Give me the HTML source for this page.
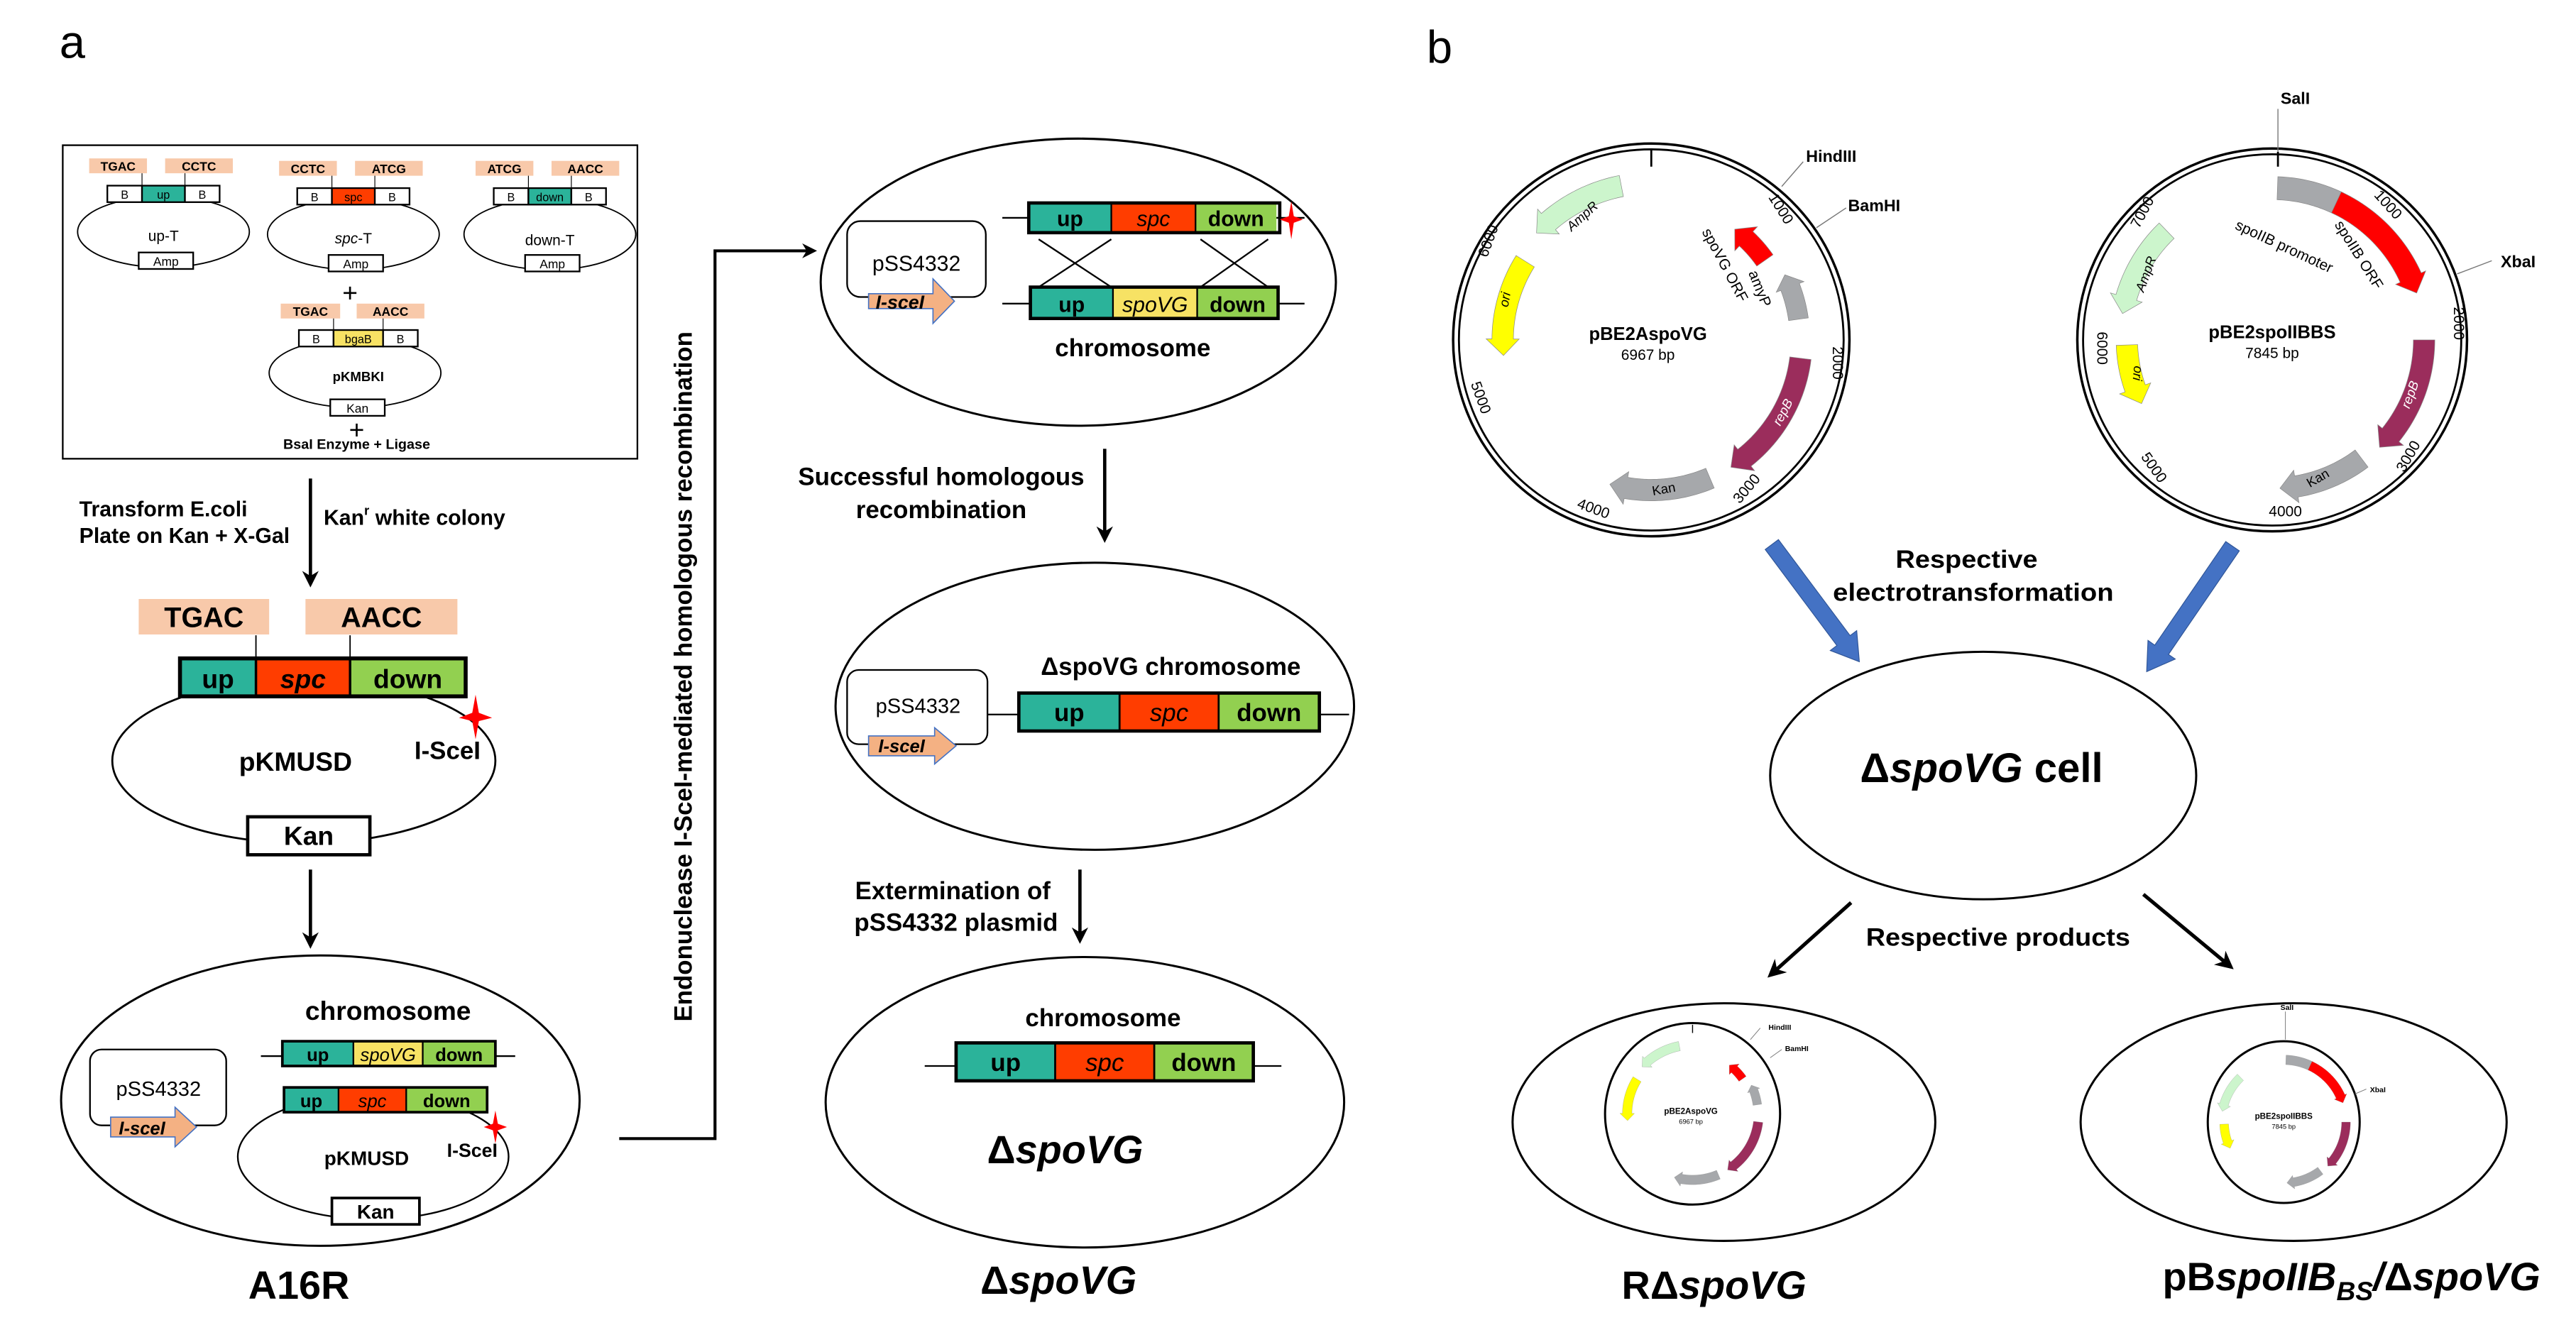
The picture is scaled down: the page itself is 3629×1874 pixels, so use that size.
<!DOCTYPE html>
<html><head><meta charset="utf-8">
<style>
html,body{margin:0;padding:0;background:#fff;}
svg{display:block;}
text{font-family:"Liberation Sans",Arial,sans-serif;}
.b{font-weight:bold;}
</style></head>
<body>
<svg id="s" xmlns="http://www.w3.org/2000/svg" width="3629" height="1874" viewBox="0 0 1560 806" preserveAspectRatio="none">
<defs>
<marker id="ah" viewBox="0 0 10 10" refX="8" refY="5" markerWidth="5" markerHeight="5" orient="auto"><path d="M0,0 L10,5 L0,10 L3,5 z" fill="#000"/></marker>
</defs>
<rect width="1560" height="806" fill="#fff"/>
<g id="shapes"></g>

<!-- panel labels -->
<text x="36" y="35" font-size="28">a</text>
<text x="864" y="38" font-size="28">b</text>

<!-- ===== top box ===== -->
<rect x="38" y="88" width="348" height="190" fill="none" stroke="#000" stroke-width="1"/>
<g id="upT">
 <ellipse cx="99" cy="140.5" rx="52" ry="21.5" fill="none" stroke="#000" stroke-width="0.8"/>
 <rect x="54" y="96" width="35" height="9" fill="#f8c9aa"/>
 <rect x="100" y="96" width="41" height="9" fill="#f8c9aa"/>
 <text x="71.5" y="103.5" font-size="7.5" text-anchor="middle" class="b">TGAC</text>
 <text x="120.5" y="103.5" font-size="7.5" text-anchor="middle" class="b">CCTC</text>
 <line x1="86" y1="105" x2="86" y2="112" stroke="#000" stroke-width="0.5"/>
 <line x1="112" y1="105" x2="112" y2="112" stroke="#000" stroke-width="0.5"/>
 <rect x="65" y="112.5" width="21" height="10" fill="#fff" stroke="#000" stroke-width="1"/>
 <rect x="86" y="112.5" width="26" height="10" fill="#2bb39a" stroke="#000" stroke-width="1"/>
 <rect x="112" y="112.5" width="21" height="10" fill="#fff" stroke="#000" stroke-width="1"/>
 <text x="75.5" y="120.5" font-size="7" text-anchor="middle">B</text>
 <text x="99" y="120.5" font-size="7" text-anchor="middle">up</text>
 <text x="122.5" y="120.5" font-size="7" text-anchor="middle">B</text>
 <text x="99" y="146" font-size="9" text-anchor="middle">up-T</text>
 <rect x="84" y="153" width="33" height="10" fill="#fff" stroke="#000" stroke-width="1"/>
 <text x="100.5" y="161" font-size="7.5" text-anchor="middle">Amp</text>
</g>
<g transform="translate(115,1.5)">
 <ellipse cx="99" cy="140.5" rx="52" ry="21.5" fill="none" stroke="#000" stroke-width="0.8"/>
 <rect x="54" y="96" width="35" height="9" fill="#f8c9aa"/>
 <rect x="100" y="96" width="41" height="9" fill="#f8c9aa"/>
 <text x="71.5" y="103.5" font-size="7.5" text-anchor="middle" class="b">CCTC</text>
 <text x="120.5" y="103.5" font-size="7.5" text-anchor="middle" class="b">ATCG</text>
 <line x1="86" y1="105" x2="86" y2="112" stroke="#000" stroke-width="0.5"/>
 <line x1="112" y1="105" x2="112" y2="112" stroke="#000" stroke-width="0.5"/>
 <rect x="65" y="112.5" width="21" height="10" fill="#fff" stroke="#000" stroke-width="1"/>
 <rect x="86" y="112.5" width="26" height="10" fill="#ff3d00" stroke="#000" stroke-width="1"/>
 <rect x="112" y="112.5" width="21" height="10" fill="#fff" stroke="#000" stroke-width="1"/>
 <text x="75.5" y="120.5" font-size="7" text-anchor="middle">B</text>
 <text x="99" y="120.5" font-size="7" text-anchor="middle">spc</text>
 <text x="122.5" y="120.5" font-size="7" text-anchor="middle">B</text>
 <text x="99" y="146" font-size="9" text-anchor="middle"><tspan font-style="italic">spc</tspan>-T</text>
 <rect x="84" y="153" width="33" height="10" fill="#fff" stroke="#000" stroke-width="1"/>
 <text x="100.5" y="161" font-size="7.5" text-anchor="middle">Amp</text>
</g>
<g transform="translate(234,1.5)">
 <ellipse cx="99" cy="140.5" rx="52" ry="21.5" fill="none" stroke="#000" stroke-width="0.8"/>
 <rect x="54" y="96" width="35" height="9" fill="#f8c9aa"/>
 <rect x="100" y="96" width="41" height="9" fill="#f8c9aa"/>
 <text x="71.5" y="103.5" font-size="7.5" text-anchor="middle" class="b">ATCG</text>
 <text x="120.5" y="103.5" font-size="7.5" text-anchor="middle" class="b">AACC</text>
 <line x1="86" y1="105" x2="86" y2="112" stroke="#000" stroke-width="0.5"/>
 <line x1="112" y1="105" x2="112" y2="112" stroke="#000" stroke-width="0.5"/>
 <rect x="65" y="112.5" width="21" height="10" fill="#fff" stroke="#000" stroke-width="1"/>
 <rect x="86" y="112.5" width="26" height="10" fill="#2bb39a" stroke="#000" stroke-width="1"/>
 <rect x="112" y="112.5" width="21" height="10" fill="#fff" stroke="#000" stroke-width="1"/>
 <text x="75.5" y="120.5" font-size="7" text-anchor="middle">B</text>
 <text x="99" y="120.5" font-size="7" text-anchor="middle">down</text>
 <text x="122.5" y="120.5" font-size="7" text-anchor="middle">B</text>
 <text x="99" y="147" font-size="9" text-anchor="middle">down-T</text>
 <rect x="84" y="153" width="33" height="10" fill="#fff" stroke="#000" stroke-width="1"/>
 <text x="100.5" y="161" font-size="7.5" text-anchor="middle">Amp</text>
</g>
<text x="212" y="183" font-size="16" text-anchor="middle">+</text>
<!-- pKMBKI -->
<ellipse cx="215" cy="226" rx="52" ry="21" fill="none" stroke="#000" stroke-width="0.8"/>
<rect x="170" y="184" width="36" height="9" fill="#f8c9aa"/>
<rect x="216" y="184" width="41" height="9" fill="#f8c9aa"/>
<text x="188" y="191.5" font-size="7.5" text-anchor="middle" class="b">TGAC</text>
<text x="236.5" y="191.5" font-size="7.5" text-anchor="middle" class="b">AACC</text>
<line x1="202" y1="193" x2="202" y2="200" stroke="#000" stroke-width="0.5"/>
<line x1="232" y1="193" x2="232" y2="200" stroke="#000" stroke-width="0.5"/>
<rect x="181" y="200" width="21" height="10" fill="#fff" stroke="#000" stroke-width="1"/>
<rect x="202" y="200" width="30" height="10" fill="#f7e264" stroke="#000" stroke-width="1"/>
<rect x="232" y="200" width="21" height="10" fill="#fff" stroke="#000" stroke-width="1"/>
<text x="191.5" y="208" font-size="7" text-anchor="middle">B</text>
<text x="217" y="208" font-size="7" text-anchor="middle">bgaB</text>
<text x="242.5" y="208" font-size="7" text-anchor="middle">B</text>
<text x="217" y="231" font-size="8" text-anchor="middle" class="b">pKMBKI</text>
<rect x="200" y="242" width="33" height="10" fill="#fff" stroke="#000" stroke-width="1"/>
<text x="216.5" y="250" font-size="7.5" text-anchor="middle">Kan</text>
<text x="216" y="266" font-size="16" text-anchor="middle">+</text>
<text x="216" y="272" font-size="8.5" text-anchor="middle" class="b">BsaI Enzyme + Ligase</text>

<!-- transform arrow -->
<line x1="188" y1="290" x2="188" y2="354" stroke="#000" stroke-width="2" marker-end="url(#ah)"/>
<text x="48" y="313" font-size="13" class="b">Transform E.coli</text>
<text x="48" y="329" font-size="13" class="b">Plate on Kan + X-Gal</text>
<text x="196" y="318" font-size="13" class="b">Kan<tspan font-size="8" dy="-6">r</tspan><tspan dy="6"> white colony</tspan></text>

<!-- pKMUSD -->
<rect x="84" y="363" width="79" height="21.5" fill="#f8c9aa"/>
<rect x="185" y="363" width="92" height="21.5" fill="#f8c9aa"/>
<text x="123.5" y="380" font-size="17" text-anchor="middle" class="b">TGAC</text>
<text x="231" y="380" font-size="17" text-anchor="middle" class="b">AACC</text>
<line x1="155" y1="385" x2="155" y2="399" stroke="#000" stroke-width="0.8"/>
<line x1="212" y1="385" x2="212" y2="399" stroke="#000" stroke-width="0.8"/>
<ellipse cx="184" cy="461" rx="116" ry="50" fill="none" stroke="#000" stroke-width="1.2"/>
<rect x="109" y="399" width="46" height="23" fill="#2bb39a"/>
<rect x="155" y="399" width="57" height="23" fill="#ff3d00"/>
<rect x="212" y="399" width="70" height="23" fill="#92d050"/>
<rect x="109" y="399" width="173" height="23" fill="none" stroke="#000" stroke-width="2.4"/>
<line x1="155" y1="399" x2="155" y2="422" stroke="#000" stroke-width="1.5"/>
<line x1="212" y1="399" x2="212" y2="422" stroke="#000" stroke-width="1.5"/>
<text x="132" y="417" font-size="16" text-anchor="middle" class="b">up</text>
<text x="183.5" y="417" font-size="16" text-anchor="middle" class="b" font-style="italic">spc</text>
<text x="247" y="417" font-size="16" text-anchor="middle" class="b">down</text>
<text x="179" y="467" font-size="16" text-anchor="middle" class="b">pKMUSD</text>
<text x="271" y="460" font-size="15" text-anchor="middle" class="b">I-SceI</text>
<path d="M288,421 L290,432 L298,435 L290,437 L288,448 L286,437 L278,435 L286,432 z" fill="#f00"/>
<rect x="150" y="495" width="74" height="23" fill="#fff" stroke="#000" stroke-width="2"/>
<text x="187" y="512" font-size="16" text-anchor="middle" class="b">Kan</text>
<line x1="188" y1="527" x2="188" y2="573" stroke="#000" stroke-width="2" marker-end="url(#ah)"/>

<!-- A16R cell -->
<ellipse cx="194" cy="667" rx="157" ry="88" fill="none" stroke="#000" stroke-width="1.3"/>
<text x="235" y="618" font-size="16" text-anchor="middle" class="b">chromosome</text>
<line x1="158" y1="640" x2="312" y2="640" stroke="#000" stroke-width="1"/>
<rect x="171" y="631" width="43" height="15" fill="#2bb39a"/>
<rect x="214" y="631" width="42" height="15" fill="#f7e264"/>
<rect x="256" y="631" width="44" height="15" fill="#92d050"/>
<rect x="171" y="631" width="129" height="15" fill="none" stroke="#000" stroke-width="1.6"/>
<line x1="214" y1="631" x2="214" y2="646" stroke="#000" stroke-width="1"/>
<line x1="256" y1="631" x2="256" y2="646" stroke="#000" stroke-width="1"/>
<text x="192.5" y="643" font-size="11" text-anchor="middle" class="b">up</text>
<text x="235" y="643" font-size="11" text-anchor="middle" font-style="italic">spoVG</text>
<text x="278" y="643" font-size="11" text-anchor="middle" class="b">down</text>
<ellipse cx="226" cy="701" rx="82" ry="38" fill="none" stroke="#000" stroke-width="1"/>
<rect x="172" y="659" width="33" height="15" fill="#2bb39a"/>
<rect x="205" y="659" width="41" height="15" fill="#ff3d00"/>
<rect x="246" y="659" width="49" height="15" fill="#92d050"/>
<rect x="172" y="659" width="123" height="15" fill="none" stroke="#000" stroke-width="1.6"/>
<line x1="205" y1="659" x2="205" y2="674" stroke="#000" stroke-width="1"/>
<line x1="246" y1="659" x2="246" y2="674" stroke="#000" stroke-width="1"/>
<text x="188.5" y="671" font-size="11" text-anchor="middle" class="b">up</text>
<text x="225.5" y="671" font-size="11" text-anchor="middle" font-style="italic">spc</text>
<text x="270.5" y="671" font-size="11" text-anchor="middle" class="b">down</text>
<text x="222" y="706" font-size="12" text-anchor="middle" class="b">pKMUSD</text>
<text x="286" y="701" font-size="11.5" text-anchor="middle" class="b">I-SceI</text>
<path d="M300,673 L301.5,681 L307,683 L301.5,685 L300,693 L298.5,685 L293,683 L298.5,681 z" fill="#f00"/>
<rect x="201" y="726" width="53" height="16" fill="#fff" stroke="#000" stroke-width="1.6"/>
<text x="227.5" y="738.5" font-size="12" text-anchor="middle" class="b">Kan</text>
<rect x="54.5" y="636" width="82.5" height="46" rx="7" fill="none" stroke="#000" stroke-width="1"/>
<text x="96" y="664" font-size="12.5" text-anchor="middle">pSS4332</text>
<path d="M67,677 L106,677 L106,671 L119,683 L106,695 L106,689 L67,689 z" fill="#f4b183" stroke="#4472c4" stroke-width="0.7"/>
<text x="86" y="687.5" font-size="11" text-anchor="middle" font-style="italic" class="b">I-sceI</text>
<text x="181" y="787" font-size="24" text-anchor="middle" class="b">A16R</text>

<!-- connector -->
<polyline points="375,690 433,690 433,152 493,152" fill="none" stroke="#000" stroke-width="1.8" marker-end="url(#ah)"/>
<text transform="translate(419,410) rotate(-90)" font-size="15" text-anchor="middle" class="b">Endonuclease I-SceI-mediated homologous recombination</text>

<!-- middle ellipse 1 -->
<ellipse cx="653" cy="171" rx="156" ry="87" fill="none" stroke="#000" stroke-width="1.3"/>
<rect x="513" y="134" width="84" height="46" rx="8" fill="none" stroke="#000" stroke-width="1"/>
<text x="555" y="164" font-size="13" text-anchor="middle">pSS4332</text>
<path d="M526,178 L565,178 L565,169 L578,182.5 L565,196 L565,187 L526,187 z" fill="#f4b183" stroke="#4472c4" stroke-width="0.7"/>
<text x="545" y="187" font-size="11.5" text-anchor="middle" font-style="italic" class="b">I-sceI</text>
<line x1="607" y1="132" x2="790" y2="132" stroke="#000" stroke-width="1"/>
<rect x="623" y="123" width="50" height="18" fill="#2bb39a"/>
<rect x="673" y="123" width="51" height="18" fill="#ff3d00"/>
<rect x="724" y="123" width="49" height="18" fill="#92d050"/>
<rect x="623" y="123" width="152" height="18" fill="none" stroke="#000" stroke-width="2"/>
<line x1="673" y1="123" x2="673" y2="141" stroke="#000" stroke-width="1"/>
<line x1="724" y1="123" x2="724" y2="141" stroke="#000" stroke-width="1"/>
<text x="648" y="137" font-size="13" text-anchor="middle" class="b">up</text>
<text x="698.5" y="137" font-size="13" text-anchor="middle" font-style="italic">spc</text>
<text x="748.5" y="137" font-size="13" text-anchor="middle" class="b">down</text>
<path d="M782,122 L783.5,131 L789,133 L783.5,135 L782,145 L780.5,135 L775,133 L780.5,131 z" fill="#f00"/>
<line x1="607" y1="184" x2="790" y2="184" stroke="#000" stroke-width="1"/>
<rect x="624" y="174" width="50" height="19" fill="#2bb39a"/>
<rect x="674" y="174" width="51" height="19" fill="#f7e264"/>
<rect x="725" y="174" width="49" height="19" fill="#92d050"/>
<rect x="624" y="174" width="150" height="19" fill="none" stroke="#000" stroke-width="2"/>
<line x1="674" y1="174" x2="674" y2="193" stroke="#000" stroke-width="1"/>
<line x1="725" y1="174" x2="725" y2="193" stroke="#000" stroke-width="1"/>
<text x="649" y="189" font-size="13" text-anchor="middle" class="b">up</text>
<text x="699.5" y="189" font-size="13" text-anchor="middle" font-style="italic">spoVG</text>
<text x="749.5" y="189" font-size="13" text-anchor="middle" class="b">down</text>
<g stroke="#000" stroke-width="1">
<line x1="629" y1="145" x2="673" y2="174"/><line x1="673" y1="145" x2="629" y2="174"/>
<line x1="727" y1="145" x2="768" y2="174"/><line x1="768" y1="145" x2="727" y2="174"/>
</g>
<text x="686" y="216" font-size="15" text-anchor="middle" class="b">chromosome</text>

<text x="570" y="294" font-size="15" text-anchor="middle" class="b">Successful homologous</text>
<text x="570" y="314" font-size="15" text-anchor="middle" class="b">recombination</text>
<line x1="669" y1="272" x2="669" y2="327" stroke="#000" stroke-width="2" marker-end="url(#ah)"/>

<!-- middle ellipse 2 -->
<ellipse cx="663" cy="428" rx="157" ry="87" fill="none" stroke="#000" stroke-width="1.3"/>
<text x="709" y="409" font-size="15" text-anchor="middle" class="b">ΔspoVG chromosome</text>
<line x1="598" y1="433" x2="817" y2="433" stroke="#000" stroke-width="1"/>
<rect x="617" y="420" width="61" height="23" fill="#2bb39a"/>
<rect x="678" y="420" width="60" height="23" fill="#ff3d00"/>
<rect x="738" y="420" width="61" height="23" fill="#92d050"/>
<rect x="617" y="420" width="182" height="23" fill="none" stroke="#000" stroke-width="2"/>
<line x1="678" y1="420" x2="678" y2="443" stroke="#000" stroke-width="1.2"/>
<line x1="738" y1="420" x2="738" y2="443" stroke="#000" stroke-width="1.2"/>
<text x="647.5" y="437" font-size="15" text-anchor="middle" class="b">up</text>
<text x="708" y="437" font-size="15" text-anchor="middle" font-style="italic">spc</text>
<text x="768.5" y="437" font-size="15" text-anchor="middle" class="b">down</text>
<rect x="513" y="406" width="85" height="45" rx="7" fill="none" stroke="#000" stroke-width="1"/>
<text x="556" y="432" font-size="12.5" text-anchor="middle">pSS4332</text>
<path d="M526,446 L566,446 L566,441 L579,452 L566,463 L566,458 L526,458 z" fill="#f4b183" stroke="#4472c4" stroke-width="0.7"/>
<text x="546" y="456" font-size="11" text-anchor="middle" font-style="italic" class="b">I-sceI</text>

<text x="577" y="545" font-size="15" text-anchor="middle" class="b">Extermination of</text>
<text x="579" y="564" font-size="15" text-anchor="middle" class="b">pSS4332 plasmid</text>
<line x1="654" y1="527" x2="654" y2="570" stroke="#000" stroke-width="2" marker-end="url(#ah)"/>

<!-- middle ellipse 3 -->
<ellipse cx="657" cy="668" rx="157" ry="88" fill="none" stroke="#000" stroke-width="1.3"/>
<text x="668" y="622" font-size="15" text-anchor="middle" class="b">chromosome</text>
<line x1="560" y1="646" x2="776" y2="646" stroke="#000" stroke-width="1"/>
<rect x="579" y="632" width="60" height="23" fill="#2bb39a"/>
<rect x="639" y="632" width="60" height="23" fill="#ff3d00"/>
<rect x="699" y="632" width="60" height="23" fill="#92d050"/>
<rect x="579" y="632" width="180" height="23" fill="none" stroke="#000" stroke-width="2"/>
<line x1="639" y1="632" x2="639" y2="655" stroke="#000" stroke-width="1.2"/>
<line x1="699" y1="632" x2="699" y2="655" stroke="#000" stroke-width="1.2"/>
<text x="609" y="649" font-size="15" text-anchor="middle" class="b">up</text>
<text x="669" y="649" font-size="15" text-anchor="middle" font-style="italic">spc</text>
<text x="729" y="649" font-size="15" text-anchor="middle" class="b">down</text>
<text x="645" y="705" font-size="24" text-anchor="middle" class="b">Δ<tspan font-style="italic">spoVG</tspan></text>
<text x="641" y="784" font-size="24" text-anchor="middle" class="b">Δ<tspan font-style="italic">spoVG</tspan></text>

<!-- ===== panel b ===== -->
<g id="p1">
<ellipse cx="1000" cy="206" rx="120" ry="119" fill="none" stroke="#000" stroke-width="1.5"/>
<ellipse cx="1000" cy="206" rx="116.5" ry="115.5" fill="none" stroke="#000" stroke-width="1.2"/>
<line x1="1000" y1="90" x2="1000" y2="101" stroke="#000" stroke-width="1.2"/>
<polyline points="1079,113 1092,98" fill="none" stroke="#777" stroke-width="0.6"/>
<polyline points="1100,138 1118,126" fill="none" stroke="#777" stroke-width="0.6"/>
</g>
<text x="1109" y="98" font-size="10" text-anchor="middle" class="b">HindIII</text>
<text x="1135" y="128" font-size="10" text-anchor="middle" class="b">BamHI</text>
<text x="998" y="206" font-size="11" text-anchor="middle" class="b">pBE2AspoVG</text>
<text x="998" y="218" font-size="9" text-anchor="middle">6967 bp</text>
<text transform="translate(1076,128) rotate(58)" font-size="9" text-anchor="middle">1000</text>
<text transform="translate(1110,220) rotate(90)" font-size="9" text-anchor="middle">2000</text>
<text transform="translate(1060,298) rotate(-50)" font-size="9" text-anchor="middle">3000</text>
<text transform="translate(964,311) rotate(20)" font-size="9" text-anchor="middle">4000</text>
<text transform="translate(894,242) rotate(70)" font-size="9" text-anchor="middle">5000</text>
<text transform="translate(904,147) rotate(-70)" font-size="9" text-anchor="middle">6000</text>
<text transform="translate(1042,162) rotate(62)" font-size="9" text-anchor="middle">spoVG ORF</text>
<text transform="translate(1063,176) rotate(68)" font-size="9" text-anchor="middle">amyP</text>
<text transform="translate(960,133) rotate(-42)" font-size="8" text-anchor="middle" font-style="italic">AmpR</text>
<text transform="translate(914,182) rotate(-80)" font-size="8" text-anchor="middle" font-style="italic">ori</text>
<text transform="translate(1082,251) rotate(-62)" font-size="8" text-anchor="middle" font-style="italic" fill="#fff">repB</text>
<text transform="translate(1008,299) rotate(-10)" font-size="8" text-anchor="middle">Kan</text>

<g>
<ellipse cx="1376" cy="206" rx="118" ry="116" fill="none" stroke="#000" stroke-width="1.5"/>
<ellipse cx="1376" cy="206" rx="114.5" ry="112.5" fill="none" stroke="#000" stroke-width="1.2"/>
<line x1="1379.5" y1="92" x2="1379.5" y2="101" stroke="#000" stroke-width="1.2"/>
<line x1="1379.5" y1="66" x2="1379.5" y2="92" stroke="#777" stroke-width="0.6"/>
<line x1="1488" y1="166" x2="1509" y2="158" stroke="#777" stroke-width="0.6"/>
</g>
<text x="1390" y="63" font-size="10" text-anchor="middle" class="b">SalI</text>
<text x="1525" y="162" font-size="10" text-anchor="middle" class="b">XbaI</text>
<text x="1376" y="205" font-size="11" text-anchor="middle" class="b">pBE2spoIIBBS</text>
<text x="1376" y="217" font-size="9" text-anchor="middle">7845 bp</text>
<text transform="translate(1444,126) rotate(48)" font-size="9" text-anchor="middle">1000</text>
<text transform="translate(1486,196) rotate(90)" font-size="9" text-anchor="middle">2000</text>
<text transform="translate(1461,278) rotate(-60)" font-size="9" text-anchor="middle">3000</text>
<text transform="translate(1384,313) rotate(0)" font-size="9" text-anchor="middle">4000</text>
<text transform="translate(1302,285) rotate(55)" font-size="9" text-anchor="middle">5000</text>
<text transform="translate(1270,211) rotate(90)" font-size="9" text-anchor="middle">6000</text>
<text transform="translate(1300,130) rotate(-62)" font-size="9" text-anchor="middle">7000</text>
<text transform="translate(1382,152) rotate(25)" font-size="9" text-anchor="middle">spoIIB promoter</text>
<text transform="translate(1426,156) rotate(58)" font-size="9" text-anchor="middle">spoIIB ORF</text>
<text transform="translate(1302,167) rotate(-70)" font-size="8" text-anchor="middle" font-style="italic">AmpR</text>
<text transform="translate(1292,226) rotate(95)" font-size="8" text-anchor="middle" font-style="italic">ori</text>
<text transform="translate(1462,240) rotate(-70)" font-size="8" text-anchor="middle" font-style="italic" fill="#fff">repB</text>
<text transform="translate(1405,292) rotate(-30)" font-size="8" text-anchor="middle">Kan</text>

<!-- blue arrows -->
<g id="blue"></g>
<text x="1191" y="344" font-size="15" text-anchor="middle" class="b" textLength="86" lengthAdjust="spacingAndGlyphs">Respective</text>
<text x="1195" y="364" font-size="15" text-anchor="middle" class="b" textLength="170" lengthAdjust="spacingAndGlyphs">electrotransformation</text>

<ellipse cx="1201" cy="470" rx="129" ry="75" fill="none" stroke="#000" stroke-width="1.3"/>
<text x="1200" y="474" font-size="25" text-anchor="middle" class="b">Δ<tspan font-style="italic">spoVG</tspan> cell</text>

<line x1="1121" y1="547" x2="1072" y2="591" stroke="#000" stroke-width="2.2" marker-end="url(#ah)"/>
<line x1="1298" y1="542" x2="1351" y2="586" stroke="#000" stroke-width="2.2" marker-end="url(#ah)"/>
<text x="1210" y="573" font-size="15" text-anchor="middle" class="b" textLength="160" lengthAdjust="spacingAndGlyphs">Respective products</text>

<ellipse cx="1044" cy="680" rx="128" ry="72" fill="none" stroke="#000" stroke-width="1.3"/>
<ellipse cx="1389" cy="680" rx="129" ry="72" fill="none" stroke="#000" stroke-width="1.3"/>
<g>
<ellipse cx="1025" cy="675" rx="53" ry="55" fill="none" stroke="#000" stroke-width="1.3"/>
<line x1="1025" y1="621" x2="1025" y2="626" stroke="#000" stroke-width="0.6"/>
<line x1="1060" y1="630" x2="1066" y2="623" stroke="#777" stroke-width="0.4"/>
<line x1="1072" y1="641" x2="1079" y2="636" stroke="#777" stroke-width="0.4"/>
<text x="1071" y="624" font-size="4.5" class="b">HindIII</text>
<text x="1081" y="637" font-size="4.5" class="b">BamHI</text>
<text x="1024" y="675" font-size="5" text-anchor="middle" class="b">pBE2AspoVG</text>
<text x="1024" y="681" font-size="4" text-anchor="middle">6967 bp</text>
</g>
<g>
<ellipse cx="1383" cy="680" rx="46" ry="49" fill="none" stroke="#000" stroke-width="1.3"/>
<line x1="1384" y1="630" x2="1384" y2="613" stroke="#777" stroke-width="0.4"/>
<line x1="1426" y1="663" x2="1433" y2="660" stroke="#777" stroke-width="0.4"/>
<text x="1385" y="612" font-size="4.5" text-anchor="middle" class="b">SalI</text>
<text x="1440" y="662" font-size="4.5" text-anchor="middle" class="b">XbaI</text>
<text x="1383" y="678" font-size="5" text-anchor="middle" class="b">pBE2spoIIBBS</text>
<text x="1383" y="684" font-size="4" text-anchor="middle">7845 bp</text>
</g>
<text x="1038" y="787" font-size="24" text-anchor="middle" class="b">RΔ<tspan font-style="italic">spoVG</tspan></text>
<text x="1424" y="782" font-size="24" text-anchor="middle" class="b">pB<tspan font-style="italic">spoIIB<tspan font-size="16" dy="6">BS</tspan><tspan dy="-6">/</tspan></tspan>Δ<tspan font-style="italic">spoVG</tspan></text>
</svg>
<script>
(function(){
var NS="http://www.w3.org/2000/svg";
var sh=document.getElementById("shapes");
function P(cx,cy,r,a){var t=a*Math.PI/180;return (cx+r*Math.sin(t)).toFixed(2)+","+(cy-r*Math.cos(t)).toFixed(2);}
function arc(cx,cy,r,a1,a2,w,hw,hl,fill,s){
 s=s||1; r*=s; w*=s; hw*=s;
 var dir=a2>a1?1:-1; var hd=hl*s/r*57.2958; var b=a2-dir*hd; var pts=[]; var n=24,i;
 for(i=0;i<=n;i++)pts.push(P(cx,cy,r+w/2,a1+(b-a1)*i/n));
 pts.push(P(cx,cy,r+hw/2,b)); pts.push(P(cx,cy,r,a2)); pts.push(P(cx,cy,r-hw/2,b));
 for(i=n;i>=0;i--)pts.push(P(cx,cy,r-w/2,a1+(b-a1)*i/n));
 var p=document.createElementNS(NS,"polygon");p.setAttribute("points",pts.join(" "));
 p.setAttribute("fill",fill);p.setAttribute("stroke","#888");p.setAttribute("stroke-width",0.3*s+"");
 sh.appendChild(p);
}
function plas1(cx,cy,s){
 arc(cx,cy,95,-11,-47,13,20,10,"#ccf5cc",s);
 arc(cx,cy,90,-58,-96,13,20,10,"#ffff00",s);
 arc(cx,cy,84,55,37,12,20,9,"#ff0000",s);
 arc(cx,cy,90,82,64,12,18,8,"#a6a8ab",s);
 arc(cx,cy,91,97,148,13,20,10,"#9b2d5c",s);
 arc(cx,cy,91,157,196,13,20,10,"#a6a8ab",s);
}
function plas2(cx,cy,s){
 arc(cx,cy,92,2,26,14,14,0.01,"#a6a8ab",s);
 arc(cx,cy,92,25,72,14,20,10,"#ff0000",s);
 arc(cx,cy,92,-44,-80,13,20,10,"#ccf5cc",s);
 arc(cx,cy,88,-92,-116,13,20,10,"#ffff00",s);
 arc(cx,cy,92,90,135,13,20,10,"#9b2d5c",s);
 arc(cx,cy,90,143,177,13,20,10,"#a6a8ab",s);
}
plas1(1000,206,1); plas2(1376,206,1);
plas1(1025,675,0.44); plas2(1383,680,0.41);
// blue arrows
var bl=document.getElementById("blue");
function barrow(x1,y1,x2,y2){
 var dx=x2-x1,dy=y2-y1,L=Math.hypot(dx,dy),ux=dx/L,uy=dy/L,nx=-uy,ny=ux,w=5,hw=10,hl=16;
 var bx=x2-ux*hl,by=y2-uy*hl;
 var pts=[[x1+nx*w,y1+ny*w],[bx+nx*w,by+ny*w],[bx+nx*hw,by+ny*hw],[x2,y2],[bx-nx*hw,by-ny*hw],[bx-nx*w,by-ny*w],[x1-nx*w,y1-ny*w]];
 var p=document.createElementNS(NS,"polygon");p.setAttribute("points",pts.map(function(q){return q[0].toFixed(1)+","+q[1].toFixed(1)}).join(" "));
 p.setAttribute("fill","#4472c4");p.setAttribute("stroke","#2f5597");p.setAttribute("stroke-width","0.5");bl.appendChild(p);
}
barrow(1073,330,1126,401); barrow(1352,331,1300,407);
})();
</script>
</body></html>
